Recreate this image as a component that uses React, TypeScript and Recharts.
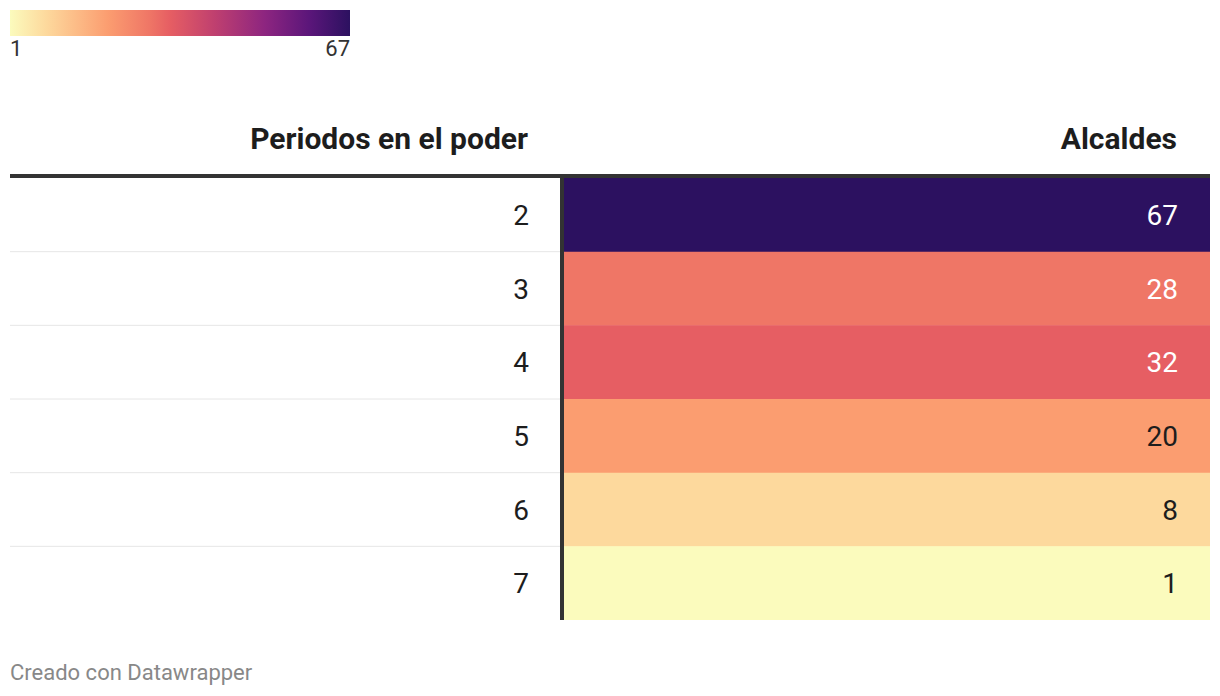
import { BarChart, Bar, XAxis, YAxis, Cell, LabelList, ReferenceLine } from "recharts";

const periodos = ["2", "3", "4", "5", "6", "7"];
const alcaldes = [67, 28, 32, 20, 8, 1];
const escalaMin = 1;
const escalaMax = 67;

const FONT = "Roboto, 'Noto Sans', sans-serif";

// escala de color tipo magma invertida
const STOPS: [number, string][] = [
    [0, "#fbfbbd"],
    [0.106, "#fdd99d"],
    [0.288, "#fb9d70"],
    [0.41, "#ef7666"],
    [0.47, "#e65e63"],
    [0.6, "#c0406f"],
    [0.75, "#8d2580"],
    [0.88, "#5b167a"],
    [1, "#2c1160"],
];

const hex = (c: string) => [1, 3, 5].map((i) => parseInt(c.slice(i, i + 2), 16));

function colorFor(v: number) {
    const t = (v - escalaMin) / (escalaMax - escalaMin);
    for (let i = 1; i < STOPS.length; i++) {
        const [t1, c1] = STOPS[i];
        const [t0, c0] = STOPS[i - 1];
        if (t <= t1) {
            const k = (t - t0) / (t1 - t0);
            const a = hex(c0), b = hex(c1);
            const rgb = a.map((x, j) => Math.round(x + (b[j] - x) * k));
            return `rgb(${rgb.join(",")})`;
        }
    }
    return STOPS[STOPS.length - 1][1];
}

function textFor(v: number) {
    const [r, g, b] = colorFor(v).match(/\d+/g)!.map(Number).map((x) => {
        const s = x / 255;
        return s <= 0.03928 ? s / 12.92 : Math.pow((s + 0.055) / 1.055, 2.4);
    });
    const lum = 0.2126 * r + 0.7152 * g + 0.0722 * b;
    return lum < 0.4 ? "#ffffff" : "#1d1d1d";
}

const data = periodos.map((p, i) => ({ periodo: p, alcaldes: alcaldes[i] }));

const PeriodoTick = (props: any) => {
    const { x, y, payload, index } = props;
    const half = payload?.offset ?? 442 / 12;
    return (
        <g>
            {index > 0 && (
                <line x1={0} x2={550} y1={y - half} y2={y - half} stroke="#e6e6e6" strokeWidth={1} />
            )}
            <text x={x} y={y} dy={10} textAnchor="end" fill="#1d1d1d" fontSize={28} fontFamily={FONT}>
                {payload.value}
            </text>
        </g>
    );
};

const ValueLabel = (props: any) => {
    const { x, y, width, height, value } = props;
    return (
        <text
            x={x + width - 32}
            y={y + height / 2}
            dy={10}
            textAnchor="end"
            fill={textFor(value)}
            fontSize={28}
            fontFamily={FONT}
        >
            {value}
        </text>
    );
};

export default function App() {
    return (
        <div style={{ position: "absolute", left: 0, top: 0, width: 1220, height: 696, background: "#fff" }}>
            <svg width={1220} height={696} style={{ position: "absolute", left: 0, top: 0 }}>
                <defs>
                    <linearGradient id="leyenda" x1="0" y1="0" x2="1" y2="0">
                        {STOPS.map(([t, c]) => (
                            <stop key={t} offset={`${t * 100}%`} stopColor={c} />
                        ))}
                    </linearGradient>
                </defs>
                <rect x={10} y={10} width={340} height={26} fill="url(#leyenda)" />
                <text x={10} y={56} fontSize={22} fontFamily={FONT} fill="#333">{escalaMin}</text>
                <text x={350} y={56} fontSize={22} fontFamily={FONT} fill="#333" textAnchor="end">{escalaMax}</text>

                <text x={528} y={149} fontSize={30} fontWeight={700} fontFamily={FONT} fill="#1d1d1d" textAnchor="end">
                    Periodos en el poder
                </text>
                <text x={1177} y={149} fontSize={30} fontWeight={700} fontFamily={FONT} fill="#1d1d1d" textAnchor="end">
                    Alcaldes
                </text>
                <rect x={10} y={174} width={1200} height={4} fill="#333333" />

                <text x={10} y={680} fontSize={22} fontFamily={FONT} fill="#888888">
                    Creado con Datawrapper
                </text>
            </svg>

            <div style={{ position: "absolute", left: 10, top: 178 }}>
                <BarChart
                    width={1200}
                    height={442}
                    data={data}
                    layout="vertical"
                    margin={{ top: 0, right: 0, bottom: 0, left: 0 }}
                    barCategoryGap={0}
                >
                    <XAxis type="number" hide domain={[0, 1]} />
                    <YAxis
                        type="category"
                        dataKey="periodo"
                        width={552}
                        axisLine={false}
                        tickLine={false}
                        tickSize={0}
                        tickMargin={33}
                        tick={<PeriodoTick />}
                        interval={0}
                    />
                    <Bar dataKey={() => 1} isAnimationActive={false}>
                        {data.map((d) => (
                            <Cell key={d.periodo} fill={colorFor(d.alcaldes)} />
                        ))}
                        <LabelList dataKey="alcaldes" content={<ValueLabel />} />
                    </Bar>
                    <ReferenceLine x={0} stroke="#333333" strokeWidth={4} ifOverflow="visible" />
                </BarChart>
            </div>
        </div>
    );
}
